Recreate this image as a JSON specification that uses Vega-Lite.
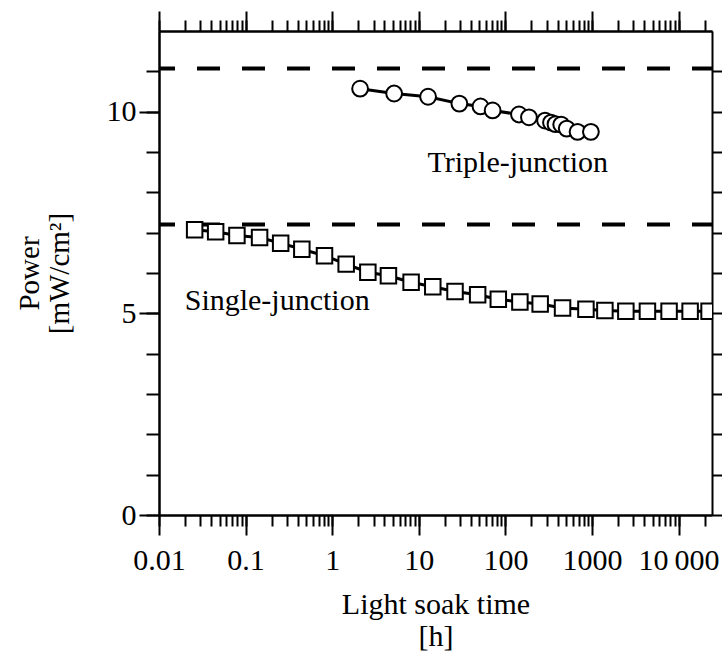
{
  "$schema": "https://vega.github.io/schema/vega-lite/v6.json",
  "width": 553,
  "height": 484,
  "autosize": {"type": "none"},
  "padding": {"left": 159, "top": 31, "right": 10, "bottom": 137},
  "background": "white",
  "datasets": {
    "sq": [
      {"time": 0.0258, "power": 7.07},
      {"time": 0.0451, "power": 7.02},
      {"time": 0.0794, "power": 6.93},
      {"time": 0.145, "power": 6.88},
      {"time": 0.254, "power": 6.74},
      {"time": 0.446, "power": 6.59},
      {"time": 0.815, "power": 6.43},
      {"time": 1.45, "power": 6.22},
      {"time": 2.58, "power": 6.02},
      {"time": 4.46, "power": 5.93},
      {"time": 8.15, "power": 5.77},
      {"time": 14.5, "power": 5.66},
      {"time": 26.2, "power": 5.54},
      {"time": 47.8, "power": 5.46},
      {"time": 82.8, "power": 5.35},
      {"time": 147, "power": 5.28},
      {"time": 252, "power": 5.23},
      {"time": 457, "power": 5.13},
      {"time": 851, "power": 5.10},
      {"time": 1409, "power": 5.07},
      {"time": 2460, "power": 5.05},
      {"time": 4365, "power": 5.05},
      {"time": 7762, "power": 5.05},
      {"time": 13580, "power": 5.05},
      {"time": 22480, "power": 5.05}
    ],
    "tri": [
      {"time": 2.10, "power": 10.57},
      {"time": 5.19, "power": 10.45},
      {"time": 12.8, "power": 10.37},
      {"time": 29.4, "power": 10.20},
      {"time": 51.6, "power": 10.13},
      {"time": 71.2, "power": 10.03},
      {"time": 143.5, "power": 9.93},
      {"time": 187, "power": 9.86},
      {"time": 287, "power": 9.78},
      {"time": 336, "power": 9.73},
      {"time": 379, "power": 9.69},
      {"time": 441, "power": 9.68},
      {"time": 511, "power": 9.58},
      {"time": 681, "power": 9.50},
      {"time": 971, "power": 9.50}
    ],
    "levels": [{"level": 11.07}, {"level": 7.2}],
    "notes": [
      {"time": 12.6, "power": 8.51, "label": "Triple-junction"},
      {"time": 0.0198, "power": 5.08, "label": "Single-junction"}
    ]
  },
  "resolve": {"axis": {"x": "independent", "y": "independent"}},
  "layer": [
    {
      "data": {"name": "levels"},
      "mark": {"type": "rule", "color": "black", "strokeWidth": 4, "strokeDash": [23, 22], "strokeDashOffset": 3},
      "encoding": {
        "y": {"field": "level", "type": "quantitative", "scale": {"domain": [0, 12], "nice": false}, "axis": null}
      }
    },
    {
      "data": {"name": "sq"},
      "mark": {"type": "line", "color": "black", "strokeWidth": 3, "clip": true},
      "encoding": {
        "x": {"field": "time", "type": "quantitative",
          "scale": {"type": "log", "domain": [0.01, 24300], "nice": false},
          "axis": {"orient": "bottom", "values": [0.01, 0.1, 1, 10, 100, 1000, 10000], "tickSize": 20, "labelPadding": 10,
            "labelExpr": "datum.value >= 10000 ? '10\u2009000' : format(datum.value, '~g')",
            "labelFlush": false, "labelOverlap": false, "labelBound": false,
            "title": ["Light soak time", "[h]"], "titleY": 98, "titleBaseline": "alphabetic", "titleLineHeight": 32, "titleFontSize": 30}},
        "y": {"field": "power", "type": "quantitative", "scale": {"domain": [0, 12], "nice": false},
          "axis": {"orient": "left", "values": [0, 5, 10], "tickSize": 20, "labelPadding": 3,
            "title": ["Power", "[mW/cm²]"], "titleX": -121, "titleY": 242, "titleAlign": "center", "titleBaseline": "alphabetic", "titleAngle": -90, "titleLineHeight": 30, "titleFontSize": 29}}
      }
    },
    {
      "data": {"name": "sq"},
      "mark": {"type": "point", "shape": "square", "filled": true, "fill": "white", "stroke": "black", "strokeWidth": 2, "size": 240, "opacity": 1, "clip": true},
      "encoding": {
        "x": {"field": "time", "type": "quantitative",
          "scale": {"type": "log", "domain": [0.01, 24300], "nice": false},
          "axis": {"orient": "bottom", "values": [0.01,0.02,0.03,0.04,0.05,0.06,0.07,0.08,0.09,0.1,0.2,0.3,0.4,0.5,0.6,0.7,0.8,0.9,1,2,3,4,5,6,7,8,9,10,20,30,40,50,60,70,80,90,100,200,300,400,500,600,700,800,900,1000,2000,3000,4000,5000,6000,7000,8000,9000,10000,20000],
            "tickSize": 11, "labels": false, "title": null}},
        "y": {"field": "power", "type": "quantitative", "scale": {"domain": [0, 12], "nice": false},
          "axis": {"orient": "left", "values": [0,1,2,3,4,5,6,7,8,9,10,11], "tickSize": 13, "labels": false, "title": null}}
      }
    },
    {
      "data": {"name": "tri"},
      "mark": {"type": "line", "color": "black", "strokeWidth": 3, "clip": true},
      "encoding": {
        "x": {"field": "time", "type": "quantitative",
          "scale": {"type": "log", "domain": [0.01, 24300], "nice": false},
          "axis": {"orient": "top", "values": [0.01, 0.1, 1, 10, 100, 1000, 10000], "tickSize": 20, "labels": false, "title": null}},
        "y": {"field": "power", "type": "quantitative", "scale": {"domain": [0, 12], "nice": false},
          "axis": {"orient": "right", "values": [0,1,2,3,4,5,6,7,8,9,10,11], "tickSize": 12, "labels": false, "title": null}}
      }
    },
    {
      "data": {"name": "tri"},
      "mark": {"type": "point", "shape": "circle", "filled": true, "fill": "white", "stroke": "black", "strokeWidth": 2, "size": 250, "opacity": 1, "clip": true},
      "encoding": {
        "x": {"field": "time", "type": "quantitative",
          "scale": {"type": "log", "domain": [0.01, 24300], "nice": false},
          "axis": {"orient": "top", "values": [0.01,0.02,0.03,0.04,0.05,0.06,0.07,0.08,0.09,0.1,0.2,0.3,0.4,0.5,0.6,0.7,0.8,0.9,1,2,3,4,5,6,7,8,9,10,20,30,40,50,60,70,80,90,100,200,300,400,500,600,700,800,900,1000,2000,3000,4000,5000,6000,7000,8000,9000,10000,20000],
            "tickSize": 11, "labels": false, "title": null}},
        "y": {"field": "power", "type": "quantitative", "scale": {"domain": [0, 12], "nice": false}, "axis": null}
      }
    },
    {
      "data": {"name": "notes"},
      "mark": {"type": "text", "align": "left", "baseline": "alphabetic", "font": "Liberation Serif", "fontSize": 30, "color": "black"},
      "encoding": {
        "x": {"field": "time", "type": "quantitative", "scale": {"type": "log", "domain": [0.01, 24300], "nice": false}, "axis": null},
        "y": {"field": "power", "type": "quantitative", "scale": {"domain": [0, 12], "nice": false}, "axis": null},
        "text": {"field": "label"}
      }
    }
  ],
  "config": {
    "view": {"stroke": null},
    "axis": {
      "labelFont": "Liberation Serif", "titleFont": "Liberation Serif",
      "labelFontSize": 30, "titleFontSize": 30, "titleFontWeight": "normal",
      "labelColor": "black", "titleColor": "black",
      "domainColor": "black", "tickColor": "black", "domainWidth": 2, "tickWidth": 2,
      "grid": false
    }
  }
}
